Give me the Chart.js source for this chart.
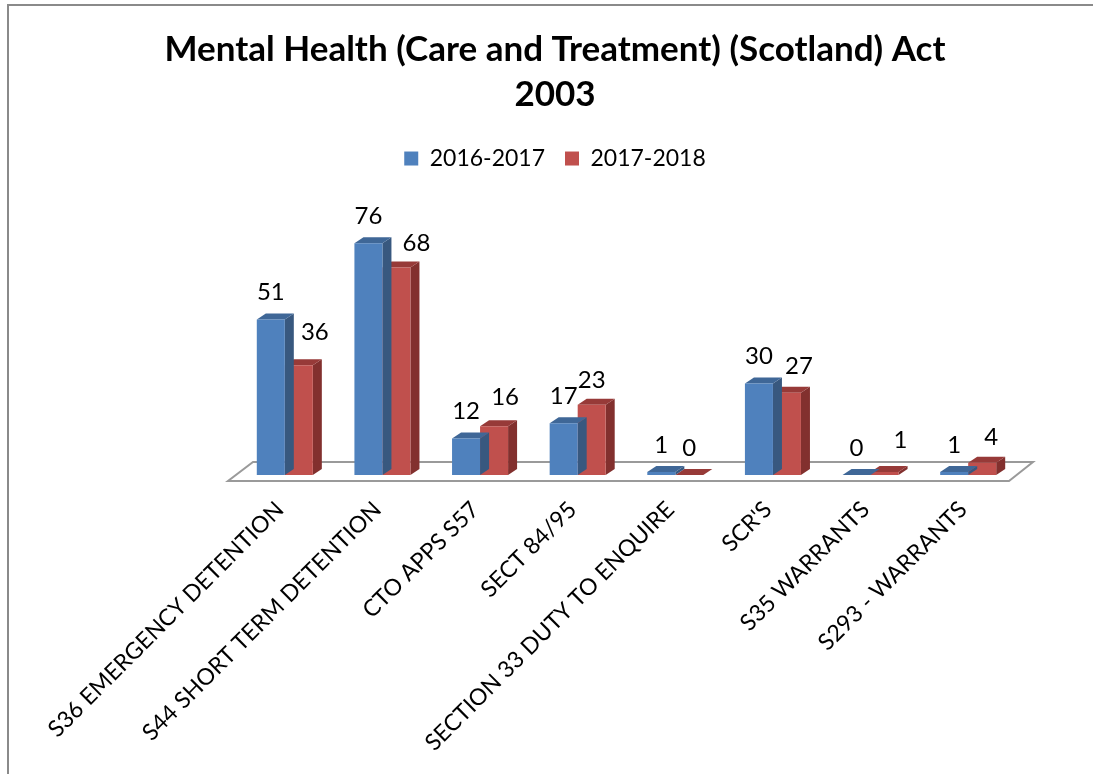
<!DOCTYPE html>
<html lang="en">
<head>
  <meta charset="UTF-8">
  <title>Mental Health (Care and Treatment) (Scotland) Act 2003</title>
  <script src="https://cdn.jsdelivr.net/npm/chart.js"></script>
  <style>
    body {
      margin: 0;
      background: #ffffff;
      overflow: hidden;
    }

    .frame {
      position: absolute;
      left: 7px;
      top: 4px;
      width: 1100px;
      height: 780px;
      border-left: 2px solid #8a8a8a;
      border-top: 2px solid #8a8a8a;
    }

    .chart-box {
      position: relative;
      width: 1092px;
      height: 768px;
    }
  </style>
</head>
<body>

  <div class="frame">
    <div class="chart-box">
      <canvas id="actChart"></canvas>
    </div>
  </div>

  <script>
    // Categories and yearly counts
    const sections = [
      'S36 EMERGENCY DETENTION',
      'S44 SHORT TERM DETENTION',
      'CTO APPS S57',
      'SECT 84/95',
      'SECTION 33 DUTY TO ENQUIRE',
      "SCR'S",
      'S35 WARRANTS',
      'S293 - WARRANTS'
    ];
    const year2016 = [51, 76, 12, 17, 1, 30, 0, 1];
    const year2017 = [36, 68, 16, 23, 0, 27, 1, 4];

    // small nudges so the value labels don't sit on the neighbouring bars
    const shiftX2017 = [16, 20, 11, 0, 0, 12, 16, 9];
    const shiftY2017 = [-6, 3, -2, 2, 0, 1, -5, 1];

    // face colours for the fake 3D columns
    const faces = [
      { front: '#4f81bd', side: '#38587f', top: '#3f6797' },
      { front: '#c0504d', side: '#82302e', top: '#973a38' }
    ];
    const DEPTH_X = 9;
    const DEPTH_Y = -6;

    // grey floor slab under the columns
    const floorPlugin = {
      id: 'floor',
      beforeDatasetsDraw(chart) {
        const { ctx, chartArea: a } = chart;
        ctx.save();
        ctx.beginPath();
        ctx.moveTo(a.left - 8, a.bottom + 6);
        ctx.lineTo(a.right - 8, a.bottom + 6);
        ctx.lineTo(a.right + 16, a.bottom - 13);
        ctx.lineTo(a.left + 17, a.bottom - 13);
        ctx.closePath();
        ctx.fillStyle = '#ffffff';
        ctx.fill();
        ctx.lineWidth = 2;
        ctx.strokeStyle = '#9a9a9a';
        ctx.stroke();
        ctx.restore();
      }
    };

    // side and top faces, drawn just before each dataset's front faces
    const columnPlugin = {
      id: 'columns3d',
      beforeDatasetDraw(chart, args) {
        const ctx = chart.ctx;
        const c = faces[args.index];
        ctx.save();
        args.meta.data.forEach(bar => {
          const half = bar.width / 2;
          const l = bar.x - half, r = bar.x + half;
          const t = bar.y, b = bar.base;
          // side
          ctx.beginPath();
          ctx.moveTo(r, t);
          ctx.lineTo(r + DEPTH_X, t + DEPTH_Y);
          ctx.lineTo(r + DEPTH_X, b + DEPTH_Y);
          ctx.lineTo(r, b);
          ctx.closePath();
          ctx.fillStyle = c.side;
          ctx.fill();
          // top
          ctx.beginPath();
          ctx.moveTo(l, t);
          ctx.lineTo(r, t);
          ctx.lineTo(r + DEPTH_X, t + DEPTH_Y);
          ctx.lineTo(l + DEPTH_X, t + DEPTH_Y);
          ctx.closePath();
          ctx.fillStyle = c.top;
          ctx.fill();
        });
        ctx.restore();
      }
    };

    // value labels above the columns
    const valuePlugin = {
      id: 'values',
      afterDatasetsDraw(chart) {
        const ctx = chart.ctx;
        ctx.save();
        ctx.font = '24px Lato';
        ctx.fillStyle = '#000000';
        ctx.textAlign = 'center';
        ctx.textBaseline = 'middle';
        chart.data.datasets.forEach((ds, i) => {
          chart.getDatasetMeta(i).data.forEach((bar, j) => {
            const dx = i === 1 ? shiftX2017[j] : 0;
            const dy = i === 1 ? shiftY2017[j] : 0;
            ctx.fillText(ds.data[j], bar.x + dx, bar.y - 27 + dy);
          });
        });
        ctx.restore();
      }
    };

    // invisible axis used only to reserve room beside the plot
    const spacer = (width, position) => ({
      type: 'linear',
      position: position,
      display: true,
      grid: { display: false },
      border: { display: false },
      ticks: { display: false },
      afterFit(scale) {
        scale.width = width;
      }
    });

    Chart.defaults.font.family = 'Lato, sans-serif';
    Chart.defaults.color = '#000000';

    new Chart(document.getElementById('actChart'), {
      type: 'bar',
      data: {
        labels: sections,
        datasets: [
          {
            label: '2016-2017',
            data: year2016,
            backgroundColor: faces[0].front,
            categoryPercentage: 0.574,
            barPercentage: 1
          },
          {
            label: '2017-2018',
            data: year2017,
            backgroundColor: faces[1].front,
            categoryPercentage: 0.574,
            barPercentage: 1
          }
        ]
      },
      options: {
        responsive: true,
        maintainAspectRatio: false,
        animation: false,
        layout: { padding: 0 },
        plugins: {
          title: {
            display: true,
            text: ['Mental Health (Care and Treatment) (Scotland) Act', '2003'],
            font: { size: 35, weight: 'bold', lineHeight: 1.286 },
            color: '#000000',
            padding: { top: 21, bottom: 10 }
          },
          legend: {
            position: 'top',
            labels: {
              boxWidth: 14,
              boxHeight: 14,
              padding: 20,
              font: { size: 23 },
              color: '#000000'
            }
          },
          tooltip: { enabled: false }
        },
        scales: {
          x: {
            grid: { display: false },
            border: { display: false },
            ticks: {
              autoSkip: false,
              maxRotation: 45,
              minRotation: 45,
              padding: 13,
              labelOffset: -5,
              font: { size: 23 },
              color: '#000000'
            },
            afterFit(scale) {
              scale.height = 299;
            }
          },
          y: Object.assign(spacer(227, 'left'), { min: 0, max: 96.7 }),
          yRight: spacer(84, 'right')
        }
      },
      plugins: [floorPlugin, columnPlugin, valuePlugin]
    });
  </script>

</body>
</html>
